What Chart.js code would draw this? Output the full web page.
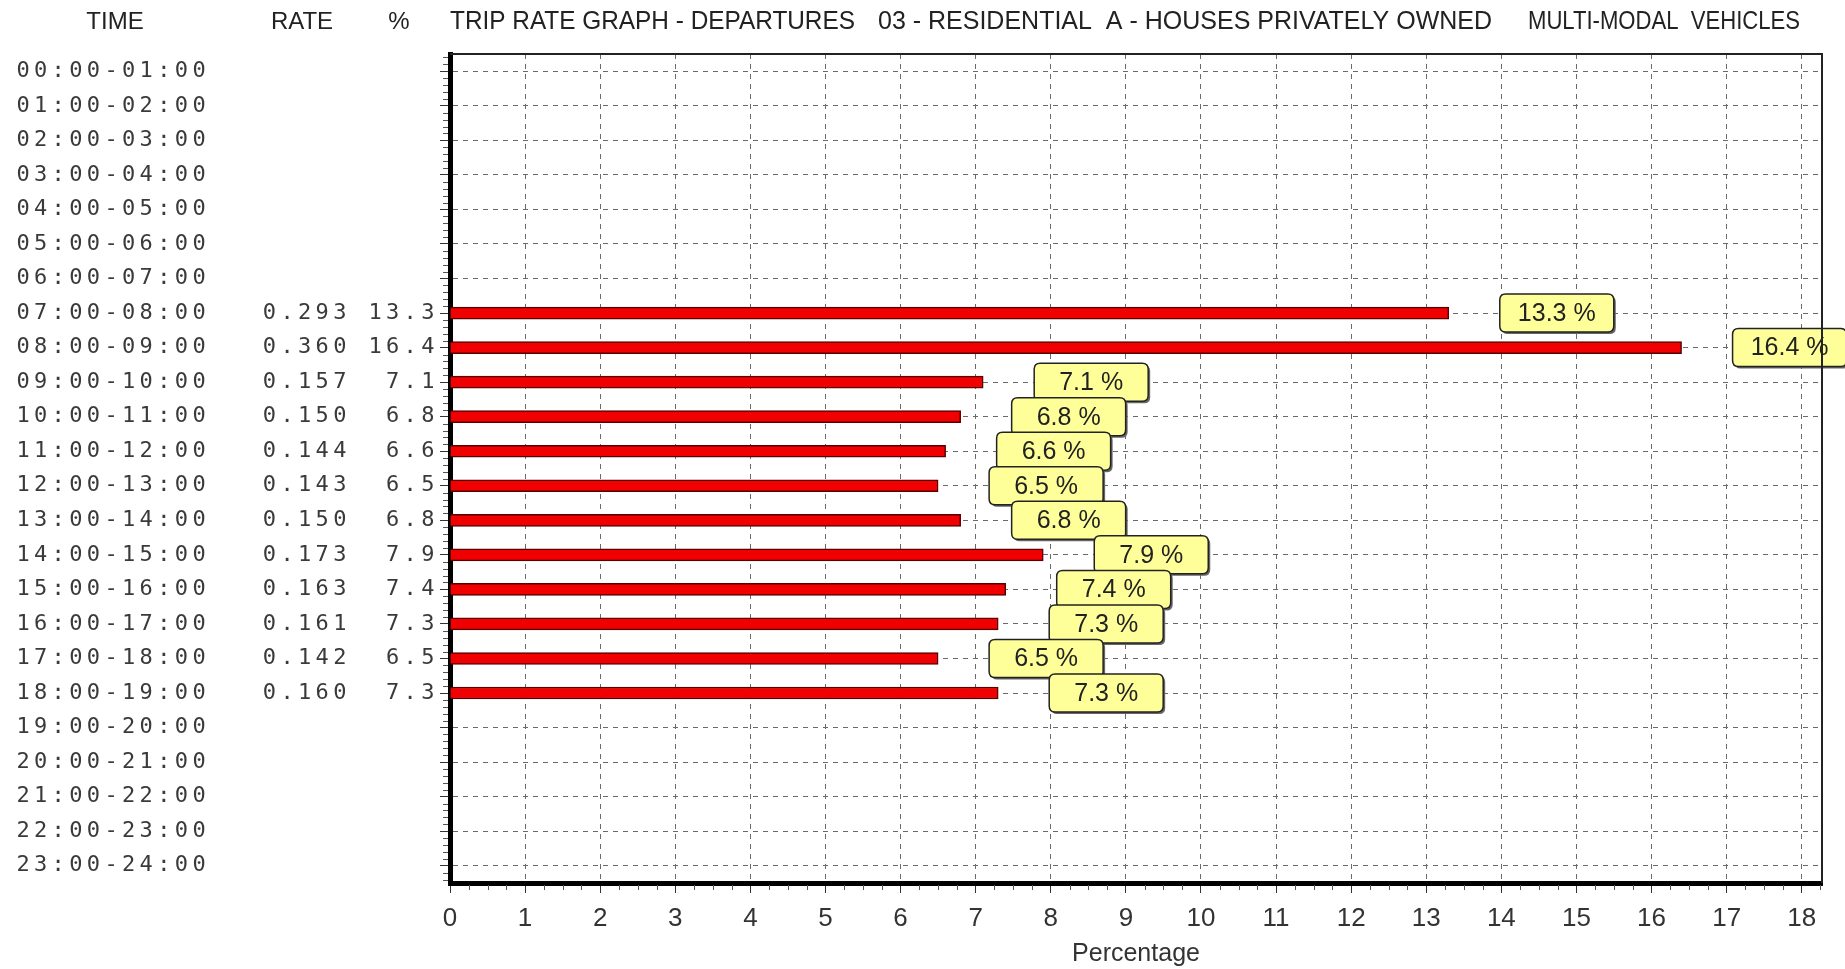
<!DOCTYPE html>
<html>
<head>
<meta charset="utf-8">
<script src="https://cdn.jsdelivr.net/npm/chart.js@4.4.0/dist/chart.umd.min.js"></script>
<style>
html, body { margin: 0; padding: 0; background: #fff; }
#wrap { width: 1845px; height: 969px; position: relative; }
</style>
</head>
<body>
<div id="wrap"><canvas id="chart"></canvas></div>
<script>
const hours = ['00:00-01:00', '01:00-02:00', '02:00-03:00', '03:00-04:00', '04:00-05:00', '05:00-06:00',
  '06:00-07:00', '07:00-08:00', '08:00-09:00', '09:00-10:00', '10:00-11:00', '11:00-12:00',
  '12:00-13:00', '13:00-14:00', '14:00-15:00', '15:00-16:00', '16:00-17:00', '17:00-18:00',
  '18:00-19:00', '19:00-20:00', '20:00-21:00', '21:00-22:00', '22:00-23:00', '23:00-24:00']
const rates = [null, null, null, null, null, null, null, 0.293, 0.360, 0.157, 0.150, 0.144,
  0.143, 0.150, 0.173, 0.163, 0.161, 0.142, 0.160, null, null, null, null, null]
const percents = [null, null, null, null, null, null, null, 13.3, 16.4, 7.1, 6.8, 6.6,
  6.5, 6.8, 7.9, 7.4, 7.3, 6.5, 7.3, null, null, null, null, null]
const xTickValues = [0, 1, 2, 3, 4, 5, 6, 7, 8, 9, 10, 11, 12, 13, 14, 15, 16, 17, 18]
const headers = ['TIME', 'RATE', '%']
const titleParts = ['TRIP RATE GRAPH - DEPARTURES', '03 - RESIDENTIAL  A - HOUSES PRIVATELY OWNED', 'MULTI-MODAL  VEHICLES']

// left text table + header line
const sideText = {
  id: 'sideText',
  afterDraw(chart) {
    const ctx = chart.ctx, ys = chart.scales.y, area = chart.chartArea
    const pitch = 17.6, x0 = 23
    ctx.save()
    ctx.fillStyle = '#3a3a3a'
    ctx.textBaseline = 'middle'
    ctx.textAlign = 'center'
    ctx.font = '22px "DejaVu Sans Mono"'
    hours.forEach((h, i) => {
      let s = h
      if (rates[i] != null) s += '   ' + rates[i].toFixed(3) + ' ' + percents[i].toFixed(1).padStart(4)
      const py = ys.getPixelForValue(i)
      ;[...s].forEach((c, k) => { if (c !== ' ') ctx.fillText(c, x0 + k * pitch, py) })
    })
    ctx.font = '24px "Liberation Sans"'
    ctx.fillStyle = '#222'
    const hx = [115, 302, 399]
    headers.forEach((t, i) => ctx.fillText(t, hx[i], 22))
    ctx.textAlign = 'left'
    ctx.font = '25px "Liberation Sans"'
    const tx = [area.left, 878, 1528], tw = [405, 618, 272]
    titleParts.forEach((t, i) => ctx.fillText(t, tx[i], 22, tw[i]))
    ctx.restore()
  }
}

// frame + minor ticks
const frame = {
  id: 'frame',
  afterDraw(chart) {
    const ctx = chart.ctx, a = chart.chartArea, xs = chart.scales.x, ys = chart.scales.y
    ctx.save()
    ctx.strokeStyle = '#222'
    ctx.lineWidth = 2
    ctx.beginPath()
    ctx.moveTo(a.left, a.top); ctx.lineTo(a.right, a.top); ctx.lineTo(a.right, a.bottom)
    ctx.stroke()
    ctx.strokeStyle = '#555'
    ctx.lineWidth = 1
    ctx.beginPath()
    for (let v = 0.25; v < xs.max; v += 0.25) {
      if (Number.isInteger(v)) continue
      const px = Math.round(xs.getPixelForValue(v)) + 0.5
      ctx.moveTo(px, a.bottom + 2); ctx.lineTo(px, a.bottom + 7)
    }
    for (let i = -0.4; i < hours.length - 0.5; i += 0.2) {
      const v = Math.round(i * 10) / 10
      if (Number.isInteger(v)) continue
      const py = Math.round(ys.getPixelForValue(v)) + 0.5
      ctx.moveTo(a.left - 7, py); ctx.lineTo(a.left - 2, py)
    }
    ctx.stroke()
    ctx.restore()
  }
}

// yellow value boxes
const valueBoxes = {
  id: 'valueBoxes',
  afterDatasetsDraw(chart) {
    const ctx = chart.ctx
    const meta = chart.getDatasetMeta(0)
    const w = 114, h = 38, r = 6
    ctx.save()
    meta.data.forEach((bar, i) => {
      if (percents[i] == null) return
      const x = bar.x + 51, y = bar.y - h / 2
      const path = (ox, oy) => {
        ctx.beginPath()
        ctx.moveTo(ox + r, oy)
        ctx.lineTo(ox + w - r, oy); ctx.quadraticCurveTo(ox + w, oy, ox + w, oy + r)
        ctx.lineTo(ox + w, oy + h - r); ctx.quadraticCurveTo(ox + w, oy + h, ox + w - r, oy + h)
        ctx.lineTo(ox + r, oy + h); ctx.quadraticCurveTo(ox, oy + h, ox, oy + h - r)
        ctx.lineTo(ox, oy + r); ctx.quadraticCurveTo(ox, oy, ox + r, oy)
        ctx.closePath()
      }
      path(x + 2, y + 2)
      ctx.fillStyle = '#666'
      ctx.fill()
      path(x, y)
      ctx.fillStyle = '#ffff99'
      ctx.fill()
      ctx.strokeStyle = '#222'
      ctx.lineWidth = 1.5
      ctx.stroke()
      ctx.fillStyle = '#222'
      ctx.font = '25px "Liberation Sans"'
      ctx.textAlign = 'center'
      ctx.textBaseline = 'middle'
      ctx.fillText(percents[i].toFixed(1) + ' %', x + w / 2, bar.y + 1)
    })
    ctx.restore()
  }
}

let chart = new Chart(document.querySelector('#chart'), {
  type: 'bar',
  data: {
    labels: hours,
    datasets: [{
      data: percents,
      backgroundColor: '#f00000',
      borderColor: '#5a0000',
      borderWidth: 1.5,
      barThickness: 12
    }]
  },
  options: {
    indexAxis: 'y',
    responsive: true,
    maintainAspectRatio: false,
    animation: false,
    layout: { padding: { top: 54, right: 23, left: 0, bottom: 0 } },
    plugins: { legend: { display: false }, tooltip: { enabled: false } },
    scales: {
      x: {
        min: 0,
        max: 18.27,
        afterBuildTicks: s => { s.ticks = xTickValues.map(v => ({ value: v })) },
        afterFit: s => { s.height = 86 },
        ticks: { autoSkip: false, maxRotation: 0, padding: 10, color: '#333',
          font: { family: 'Liberation Sans', size: 26 } },
        grid: { color: '#6a6a6a', lineWidth: 1, tickLength: 10, tickColor: '#333', tickBorderDash: [] },
        border: { display: true, color: '#000', width: 5, dash: [5, 5] },
        title: { display: true, text: 'Percentage', color: '#333',
          font: { family: 'Liberation Sans', size: 25 }, padding: { top: 0, bottom: 0 } }
      },
      y: {
        type: 'category',
        offset: true,
        afterFit: s => { s.width = 450 },
        ticks: { display: false },
        grid: { offset: false, color: '#6a6a6a', lineWidth: 1, tickLength: 10, tickColor: '#333', tickBorderDash: [] },
        border: { display: true, color: '#000', width: 5, dash: [5, 5] }
      }
    }
  },
  plugins: [sideText, frame, valueBoxes]
})
</script>
</body>
</html>
